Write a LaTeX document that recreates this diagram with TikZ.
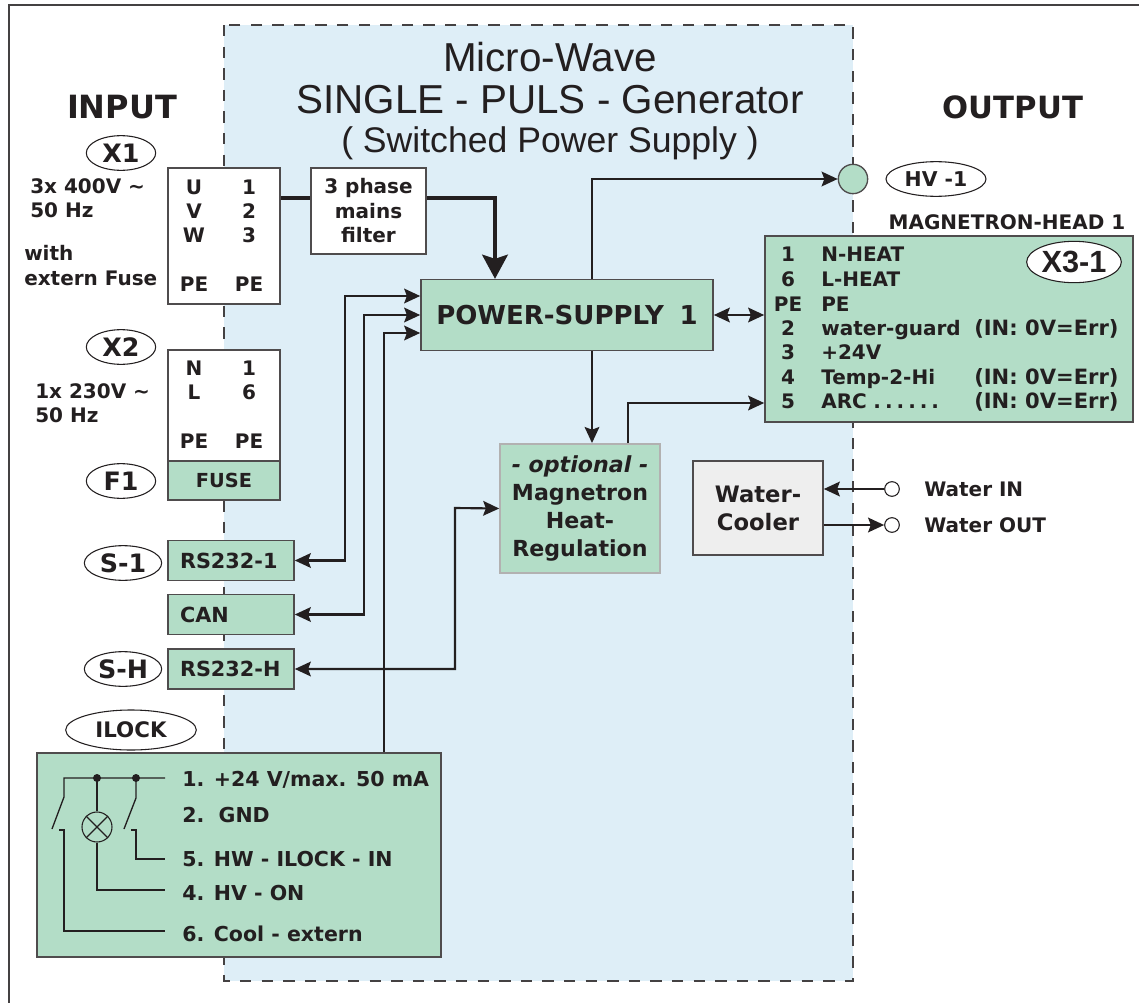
\documentclass[tikz,border=0pt]{standalone}
\usepackage{fontspec}
\setmainfont{DejaVu Sans}
\newfontfamily\titlefont{Liberation Sans}
\definecolor{panelblue}{RGB}{222,238,247}
\definecolor{boxgreen}{RGB}{179,221,199}
\definecolor{coolgrey}{RGB}{238,238,238}
\definecolor{inkdark}{RGB}{35,31,32}
\usetikzlibrary{arrows.meta,calc,shapes.geometric}
\tikzset{
    blockbox/.style={draw=inkdark!80,line width=1.2pt,inner sep=0pt,align=center,font=\bfseries\fontsize{15}{18.4}\selectfont,text=inkdark},
    whitebox/.style={blockbox,fill=white},
    greenbox/.style={blockbox,fill=boxgreen},
    portbox/.style={greenbox,minimum width=94.5pt,minimum height=30pt,text width=76.5pt,align=left,font=\bfseries\fontsize{15.6}{18}\selectfont},
    tagoval/.style={draw=inkdark,fill=white,ellipse,line width=0.8pt,inner sep=0pt,text=inkdark,font=\bfseries\fontsize{19}{22}\selectfont},
    plain/.style={text=inkdark,font=\bfseries\fontsize{15}{18}\selectfont,inner sep=0pt,text height=11pt,text depth=0pt},
    notes/.style={text=inkdark,font=\bfseries\fontsize{15}{18.6}\selectfont,inner sep=0pt,anchor=north west,align=left},
    wire/.style={inkdark,line width=1.6pt},
    tipped/.style={wire,-{Stealth[length=12pt,width=11pt,inset=2pt]}},
    bothtip/.style={wire,{Stealth[length=12pt,width=11pt,inset=2pt]}-{Stealth[length=12pt,width=11pt,inset=2pt]}},
    thinwire/.style={inkdark,line width=1pt}
}
\begin{document}
\begin{tikzpicture}[x=0.75pt,y=-0.75pt]
    \useasboundingbox (0,0) rectangle (1139,1003);

    % Frame and generator panel
    \draw[inkdark!85,line width=1.5pt] (9,1003) -- (9,5) -- (1139,5);
    \fill[panelblue] (224,25) rectangle (853,981);
    \draw[inkdark!85,line width=1.1pt,dash pattern=on 8.5pt off 7.7pt] (224,25) rectangle (853,981);

    % Headings
    \node[text=inkdark,inner sep=0pt,align=center,font=\titlefont\fontsize{30.3}{32}\selectfont] (title) at (550,78) {Micro-Wave\\SINGLE - PULS - Generator};
    \node[text=inkdark,inner sep=0pt,font=\titlefont\fontsize{26.7}{30}\selectfont] (subtitle) at (550,143) {( Switched Power Supply )};
    \node[text=inkdark,inner sep=0pt,font=\bfseries\fontsize{24}{28}\selectfont] (input) at (122,107) {INPUT};
    \node[text=inkdark,inner sep=0pt,font=\bfseries\fontsize{23}{28}\selectfont] (output) at (1013,107) {OUTPUT};

    % Input side
    \node[whitebox,minimum width=84pt,minimum height=102pt] (xone) at (224,236) {};
    \node[whitebox,minimum width=86pt,minimum height=64.5pt] (filter) at (368.5,211) {3 phase\\mains\\filter};
    \node[whitebox,minimum width=84pt,minimum height=83pt] (xtwo) at (224,405.5) {};
    \node[greenbox,minimum width=84pt,minimum height=29pt,font=\bfseries\fontsize{14.5}{18}\selectfont] (fuse) at (224,480.5) {FUSE};
    \node[portbox] (rsone) at (231,560.5) {RS232-1};
    \node[portbox] (can) at (231,614.5) {CAN};
    \node[portbox] (rsh) at (231,669) {RS232-H};

    \foreach \nam/\x/\y/\txt in {a/194/187/U,b/194/211/V,c/194/235/W,d/194/284/PE,e/249/187/1,f/249/211/2,g/249/235/3,h/249/284/PE,
        i/194/368/N,j/194/392/L,k/194/441/PE,l/249/368/1,m/249/392/6,n/249/441/PE}
        \node[plain] (pin\nam) at (\x,\y) {\txt};

    \node[tagoval,minimum width=52pt,minimum height=26pt] (tagxone) at (121,153) {X1};
    \node[tagoval,minimum width=52pt,minimum height=26pt] (tagxtwo) at (121,347) {X2};
    \node[tagoval,minimum width=52pt,minimum height=26pt] (tagfone) at (121,481) {F1};
    \node[tagoval,minimum width=58pt,minimum height=26pt] (tagsone) at (123,563) {S-1};
    \node[tagoval,minimum width=58pt,minimum height=26pt] (tagsh) at (123,669) {S-H};
    \node[tagoval,minimum width=98pt,minimum height=30pt,font=\bfseries\fontsize{16}{18}\selectfont] (tagilock) at (131,730) {ILOCK};

    \node[notes] (mainsthree) at (30,178) {3x 400V \textasciitilde\\50 Hz};
    \node[notes] (fusenote) at (24,245) {with\\extern Fuse};
    \node[notes] (mainsone) at (35,383) {1x 230V \textasciitilde\\50 Hz};

    % Generator blocks
    \node[greenbox,minimum width=219pt,minimum height=53pt,font=\bfseries\fontsize{19.5}{22}\selectfont] (psu) at (567,315) {POWER-SUPPLY\hspace{0.6em}1};
    \node[greenbox,draw=inkdark!35,minimum width=120pt,minimum height=97pt,font=\bfseries\fontsize{16.6}{20.8}\selectfont] (heatreg) at (580,508.5) {\textit{- optional -}\\Magnetron\\Heat-\\Regulation};
    \node[blockbox,fill=coolgrey,minimum width=97.5pt,minimum height=70.5pt,font=\bfseries\fontsize{17}{21}\selectfont] (cooler) at (758,508) {Water-\\Cooler};

    % Output side
    \node[draw=inkdark!80,fill=boxgreen,circle,line width=1pt,minimum size=22pt,inner sep=0pt] (hvport) at (853,179) {};
    \node[tagoval,minimum width=75pt,minimum height=26pt,font=\bfseries\fontsize{15.3}{18}\selectfont] (taghv) at (936,179) {HV -1};
    \node[plain] (headname) at (1007,222) {MAGNETRON-HEAD 1};
    \node[greenbox,minimum width=276pt,minimum height=139.5pt] (xthree) at (949,329) {};
    \node[tagoval,minimum width=71pt,minimum height=31pt,font=\titlefont\bfseries\fontsize{23}{26}\selectfont] (tagxthree) at (1074,262) {X3-1};

    \foreach \nam/\y/\num/\txt in {a/254/1/N-HEAT,b/279/6/L-HEAT,c/304/PE/PE,d/328/2/water-guard,e/352/3/+24V,f/377/4/Temp-2-Hi,
        g/401/5/ARC\hspace{5pt}.\hspace{3pt}.\hspace{3pt}.\hspace{3pt}.\hspace{3pt}.\hspace{3pt}.}{
        \node[plain] (num\nam) at (788,\y) {\num};
        \node[plain,anchor=west] (sig\nam) at (821,\y) {\txt};
    }
    \foreach \nam/\y in {d/328,f/377,g/401}
        \node[plain,anchor=west,font=\bfseries\fontsize{15.8}{18}\selectfont] (err\nam) at (974,\y) {(IN: 0V=Err)};

    % Water ports
    \node[draw=inkdark,fill=white,circle,line width=0.8pt,minimum size=11pt,inner sep=0pt] (watin) at (892,489) {};
    \node[draw=inkdark,fill=white,circle,line width=0.8pt,minimum size=11pt,inner sep=0pt] (watout) at (892,525) {};
    \node[plain,anchor=west] (watinlab) at (924,489) {Water IN};
    \node[plain,anchor=west] (watoutlab) at (924,525) {Water OUT};

    % Interlock block
    \node[greenbox,minimum width=303pt,minimum height=153pt] (ilock) at (239,855) {};
    \foreach \nam/\y/\txt in {a/779/{1. +24 V/max. 50 mA},b/815/2.\ \ GND,c/859/5. HW - ILOCK - IN,d/893/4. HV - ON,e/934/6. Cool - extern}
        \node[plain,anchor=west,font=\bfseries\fontsize{15.4}{18}\selectfont] (ilk\nam) at (182,\y) {\txt};
    \node[draw=inkdark,circle,line width=0.8pt,minimum size=22.5pt,inner sep=0pt] (lamp) at (97,827) {};
    \draw[thinwire] (lamp.north west) -- (lamp.south east) (lamp.north east) -- (lamp.south west); % cross in the lamp
    \coordinate (dotleft) at (97,778);
    \coordinate (dotright) at (136,778);
    \fill[inkdark] (dotleft) circle (3pt);
    \fill[inkdark] (dotright) circle (3pt);
    \draw[thinwire] (52,829) -- (64,797) -- (64,778) -- (165,778); % top rail with left switch
    \draw[thinwire] (dotleft) -- (lamp.north);
    \draw[thinwire] (124,829) -- (136,798) -- (dotright);
    \draw[thinwire] (131,830) -- (136,830) -- (136,859) -- (165,859);
    \draw[thinwire] (lamp.south) -- (97,890) -- (165,890);
    \draw[thinwire] (59,830) -- (64,830) -- (64,931) -- (165,931);

    % Connections
    \coordinate (psua) at (psu.west |- 0,296);
    \coordinate (psub) at (psu.west |- 0,315);
    \coordinate (psuc) at (psu.west |- 0,333);
    \coordinate (psuin) at (psu.north -| 495,0);
    \coordinate (psuout) at (psu.north -| 592,0);
    \coordinate (heatout) at (heatreg.north -| 628,0);
    \coordinate (ilockout) at (ilock.north -| 384,0);
    \coordinate (xbarc) at (xthree.west |- 0,403);
    \coordinate (filtinl) at (filter.west |- 0,198);
    \coordinate (filtout) at (filter.east |- 0,198);
    \coordinate (xoneout) at (xone.east |- 0,198);
    \coordinate (coolin) at (cooler.east |- watin);
    \coordinate (coolout) at (cooler.east |- watout);

    \draw[inkdark,line width=3.6pt] (xoneout) -- (filtinl);
    \draw[inkdark,line width=3.6pt,-{Stealth[length=18pt,width=19pt,inset=3pt]}] (filtout) -| (psuin);
    \draw[bothtip] (rsone.east) -| (345,296) -- (psua);
    \draw[bothtip] (can.east) -| (364,315) -- (psub);
    \draw[tipped] (ilockout) |- (psuc);
    \draw[bothtip] (rsh.east) -| (455,508) -- (heatreg.west);
    \draw[tipped] (psuout) |- (hvport.west);
    \draw[bothtip] (psu.east) -- (xthree.west |- psu.east);
    \draw[tipped] (psu.south -| psuout) -- (heatreg.north -| psuout);
    \draw[tipped] (heatout) |- (xbarc);
    \draw[tipped] (watin.west) -- (coolin);
    \draw[tipped] (coolout) -- (watout.west);
\end{tikzpicture}
\end{document}
